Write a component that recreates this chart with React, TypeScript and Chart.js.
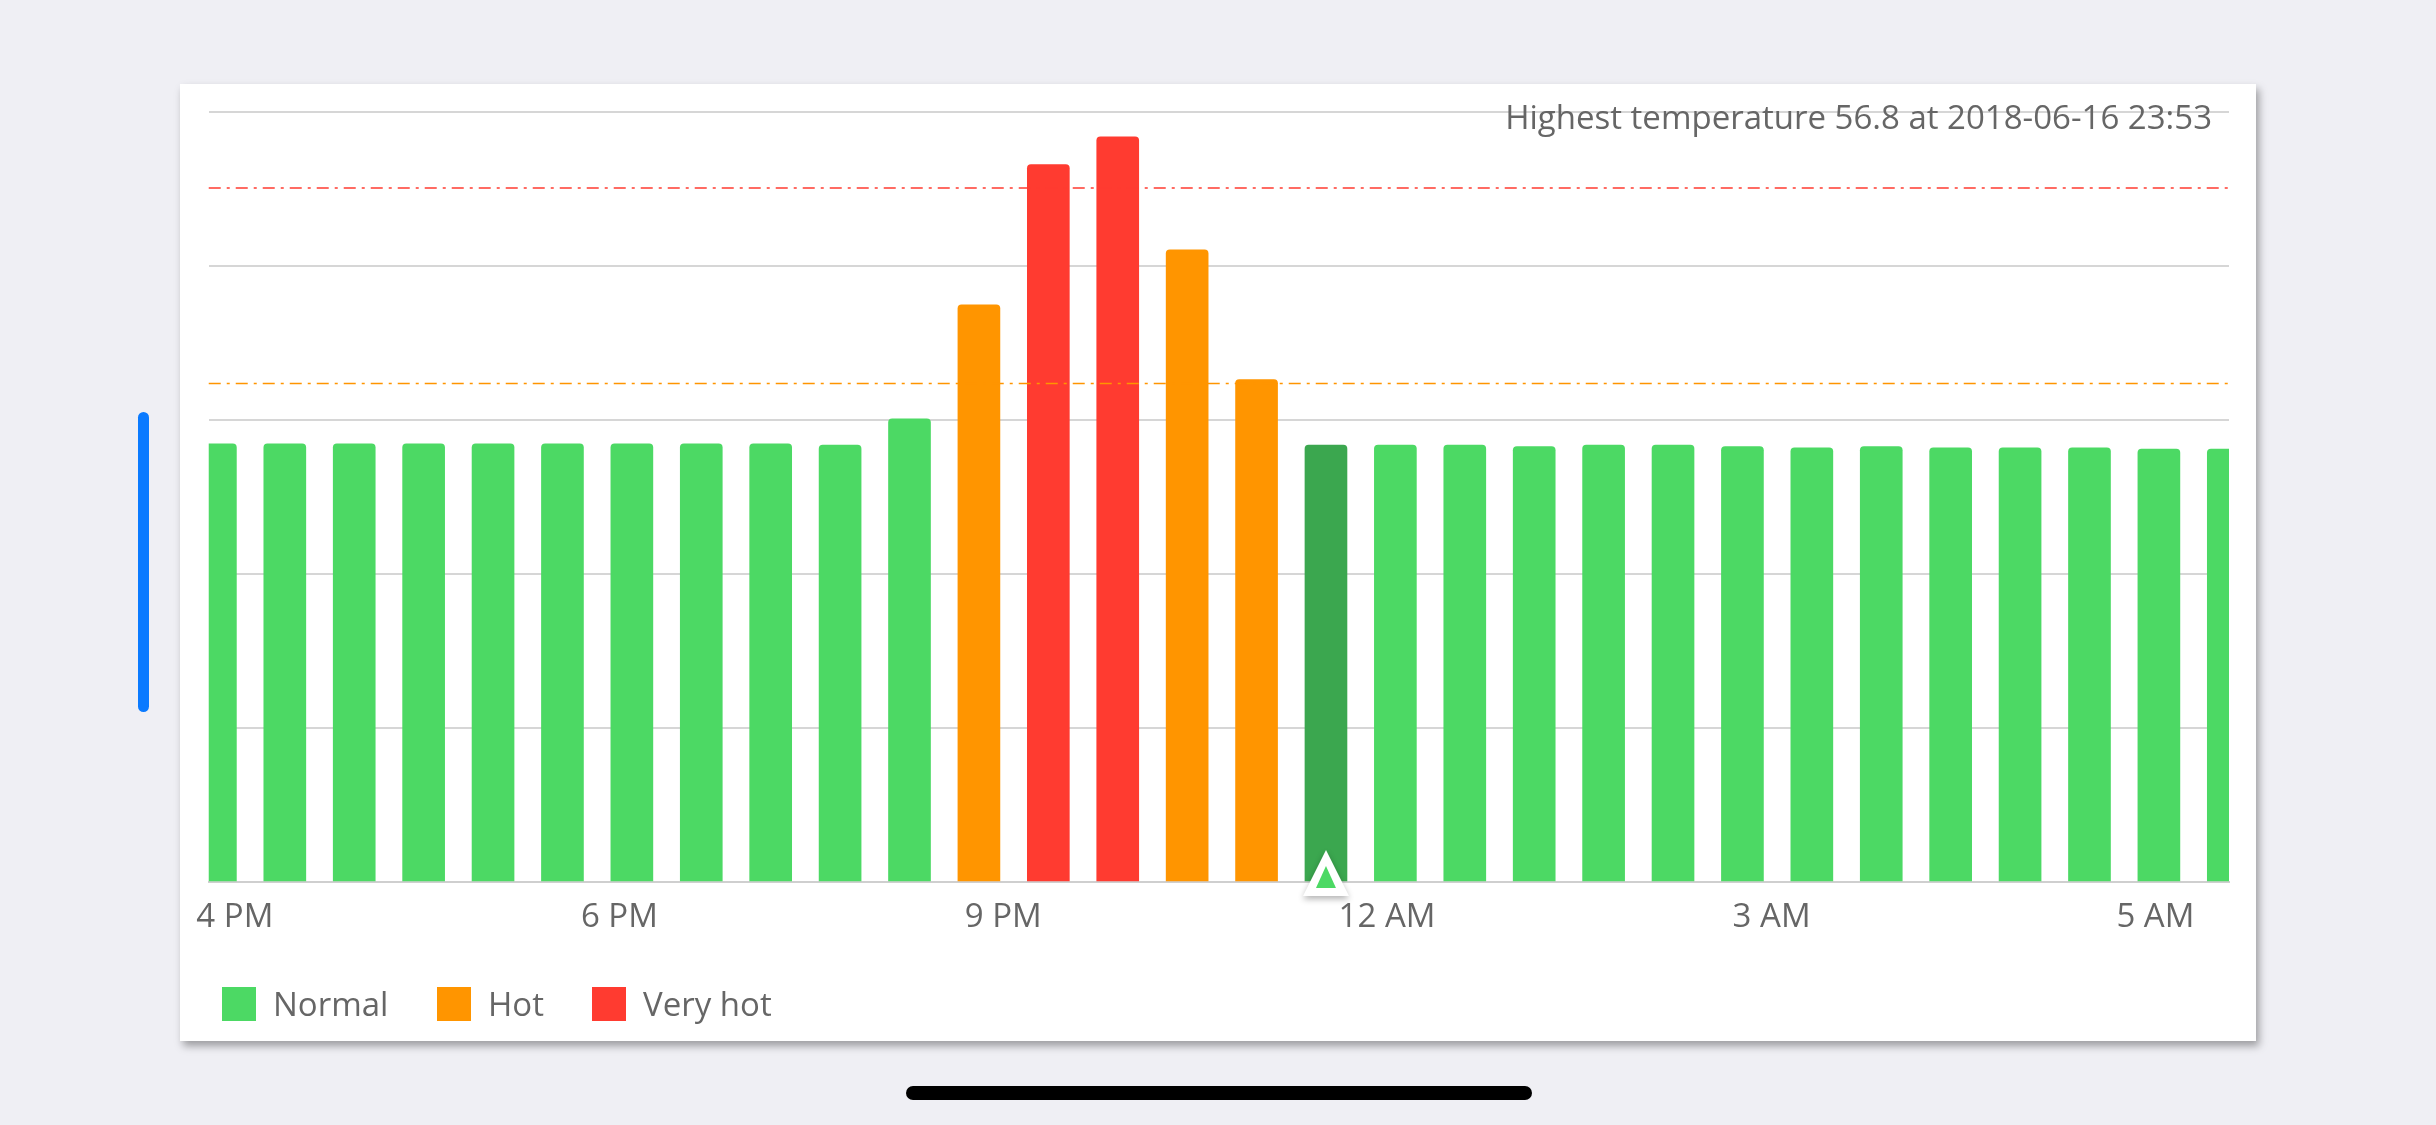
import React, { useEffect, useRef } from "react";
import { Chart, registerables } from "chart.js";
Chart.register(...registerables);

const temps = [33.4, 33.4, 33.4, 33.4, 33.4, 33.4, 33.4, 33.4, 33.4, 33.3, 35.3, 44.0, 54.7, 56.8, 48.2, 38.3, 33.3, 33.3, 33.3, 33.2, 33.3, 33.3, 33.2, 33.1, 33.2, 33.1, 33.1, 33.1, 33.0, 33.0];
const selectedIndex = 16;
const hotThreshold = 38.0;
const veryHotThreshold = 52.9;
const tickPositions = [0.28, 5.82, 11.35, 16.88, 22.42, 27.95];
const tickLabels = ["4 PM", "6 PM", "9 PM", "12 AM", "3 AM", "5 AM"];
const legendItems = [
  { label: "Normal", color: "#4CD964" },
  { label: "Hot", color: "#FF9500" },
  { label: "Very hot", color: "#FF3B30" },
];
const titleText = "Highest temperature 56.8 at 2018-06-16 23:53";
const yMax = 58.7;

const FONT = "'Open Sans', Roboto, sans-serif";

function colorFor(v: number, i: number) {
  if (i === selectedIndex) return "#3BA74F";
  if (v >= veryHotThreshold) return "#FF3B30";
  if (v >= hotThreshold) return "#FF9500";
  return "#4CD964";
}

export default function App() {
  const ref = useRef<HTMLCanvasElement>(null);
  useEffect(() => {
    const overlay = {
      id: "overlay",
      afterDatasetsDraw(chart: any) {
        const { ctx, chartArea, scales } = chart;
        const y = scales.y;
        ctx.save();
        ctx.lineWidth = 1.5;
        ctx.setLineDash([12, 6, 3, 6]);
        [[veryHotThreshold, "#FF3B30"], [hotThreshold, "#FF9500"]].forEach(([v, c]: any) => {
          const py = y.getPixelForValue(v);
          ctx.strokeStyle = c;
          ctx.beginPath();
          ctx.moveTo(chartArea.left, py);
          ctx.lineTo(chartArea.right, py);
          ctx.stroke();
        });
        ctx.setLineDash([]);
        ctx.fillStyle = "#666";
        ctx.font = `33px ${FONT}`;
        ctx.textAlign = "right";
        ctx.textBaseline = "middle";
        ctx.fillText(titleText, 2032, 36);
        const bx = scales.x.getPixelForValue(selectedIndex);
        const base = chartArea.bottom + 14;
        ctx.shadowColor = "rgba(0,0,0,0.3)";
        ctx.shadowBlur = 6;
        ctx.shadowOffsetY = 3;
        ctx.fillStyle = "#fff";
        ctx.beginPath();
        ctx.moveTo(bx, base - 46);
        ctx.lineTo(bx + 23, base);
        ctx.lineTo(bx - 23, base);
        ctx.closePath();
        ctx.fill();
        ctx.shadowColor = "transparent";
        ctx.fillStyle = "#4CD964";
        ctx.beginPath();
        ctx.moveTo(bx, base - 30);
        ctx.lineTo(bx + 10, base - 8);
        ctx.lineTo(bx - 10, base - 8);
        ctx.closePath();
        ctx.fill();
        ctx.restore();
      },
    };
    const chart = new Chart(ref.current!, {
      type: "bar",
      data: {
        datasets: [
          {
            data: temps.map((v, i) => ({ x: i, y: v })),
            backgroundColor: temps.map(colorFor),
            barThickness: 42,
            borderRadius: { topLeft: 4, topRight: 4, bottomLeft: 0, bottomRight: 0 },
            borderSkipped: "bottom",
          },
        ],
      },
      options: {
        animation: false,
        responsive: false,
        layout: { padding: { top: 28, left: 27, right: 27, bottom: 99 } },
        plugins: { legend: { display: false }, tooltip: { enabled: false } },
        scales: {
          x: {
            type: "linear",
            offset: false,
            min: -0.096,
            max: 29.01,
            grid: { display: false, drawTicks: false },
            border: { display: true, color: "#cfcfcf", width: 2 },
            afterBuildTicks: (s: any) => {
              s.ticks = tickPositions.map((v) => ({ value: v }));
            },
            afterFit: (s: any) => {
              s.height = 60;
            },
            ticks: {
              autoSkip: false,
              maxRotation: 0,
              padding: 16,
              color: "#666",
              font: { size: 33, family: FONT },
              callback: (_v: any, i: number) => tickLabels[i],
            },
          },
          y: {
            min: 0,
            max: yMax,
            afterBuildTicks: (s: any) => {
              s.ticks = [0, 1, 2, 3, 4, 5].map((k) => ({ value: (yMax / 5) * k }));
            },
            afterFit: (s: any) => {
              s.width = 0;
            },
            ticks: { display: false },
            border: { display: false },
            grid: { color: "#d6d6d6", lineWidth: 2, drawTicks: false },
          },
        },
      },
      plugins: [overlay],
    } as any);
    return () => chart.destroy();
  }, []);

  return (
    <div style={{ position: "fixed", inset: 0, background: "#efeff4", fontFamily: FONT }}>
      <div style={{ position: "absolute", left: 138, top: 412, width: 11, height: 300, borderRadius: 6, background: "#0A7AFF" }} />
      <div
        style={{
          position: "absolute",
          left: 180,
          top: 84,
          width: 2076,
          height: 957,
          background: "#fff",
          overflow: "hidden",
          boxShadow: "3px 5px 8px rgba(0,0,0,0.35)",
        }}
      >
        <canvas ref={ref} width={2076} height={957} style={{ display: "block" }} />
        {legendItems.map((it, i) => (
          <div
            key={it.label}
            style={{ position: "absolute", top: 903, left: [42, 257, 412][i], display: "flex", alignItems: "center" }}
          >
            <div style={{ width: 34, height: 34, background: it.color, marginRight: 17 }} />
            <span style={{ fontSize: 33, color: "#666", lineHeight: "34px" }}>{it.label}</span>
          </div>
        ))}
      </div>
      <div style={{ position: "absolute", left: 906, top: 1086, width: 626, height: 14, borderRadius: 7, background: "#000" }} />
    </div>
  );
}
